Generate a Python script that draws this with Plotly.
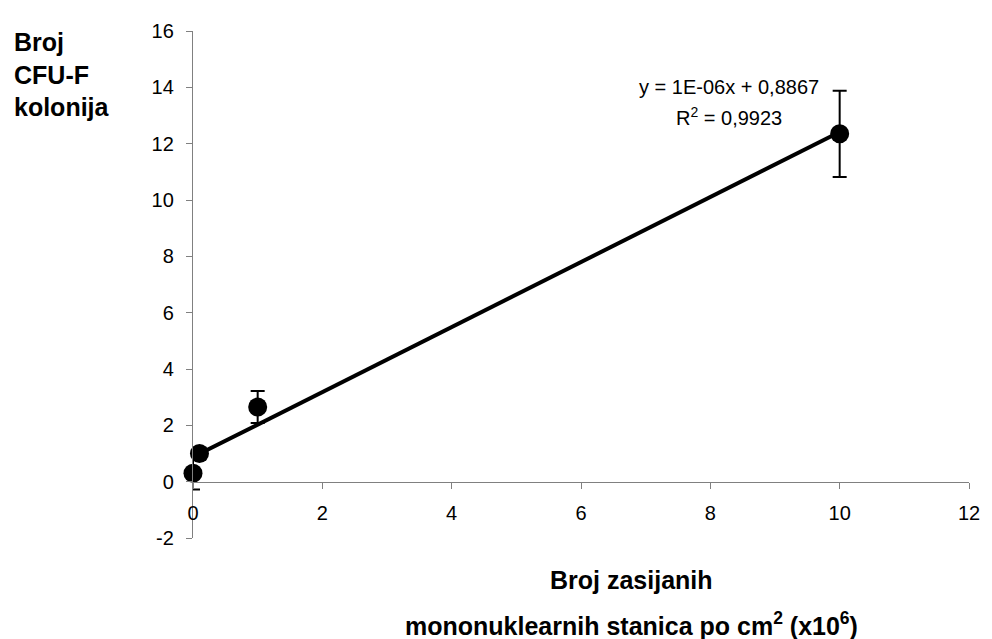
import numpy as np
import plotly.graph_objects as go

# Data
cells_x10e6 = [0.0, 0.1, 1.0, 10.0]
cfu_colonies = [0.3, 1.0, 2.65, 12.35]
cfu_error = [0.58, 0.2, 0.57, 1.53]

x_ticks = [0, 2, 4, 6, 8, 10, 12]
y_ticks = [-2, 0, 2, 4, 6, 8, 10, 12, 14, 16]
x_tick_labels = [str(v) for v in x_ticks]
y_tick_labels = [str(v) for v in y_ticks]

eq_line1 = "y = 1E-06x + 0,8867"
eq_line2 = "R<sup>2</sup> = 0,9923"
y_title = "Broj<br>CFU-F<br>kolonija"
x_title1 = "Broj zasijanih"
x_title2 = "mononuklearnih stanica po cm<sup>2</sup> (x10<sup>6</sup>)"

FONT = "Liberation Sans, Arial, sans-serif"

# Linear trend fitted to the data
slope, intercept = np.polyfit(cells_x10e6, cfu_colonies, 1)
trend_x = [0.0, 10.0]
trend_y = [intercept + slope * v for v in trend_x]

fig = go.Figure()
fig.add_trace(go.Scatter(
    x=trend_x, y=trend_y, mode="lines",
    line=dict(color="black", width=4),
    showlegend=False, hoverinfo="skip",
))
fig.add_trace(go.Scatter(
    x=cells_x10e6, y=cfu_colonies, mode="markers",
    marker=dict(color="black", size=19),
    error_y=dict(type="data", array=cfu_error, visible=True,
                 color="black", thickness=2, width=7),
    cliponaxis=False, showlegend=False,
))

ymin, ymax = -2, 16
fig.update_layout(
    width=984, height=631,
    margin=dict(l=185, r=15, t=12, b=101),
    paper_bgcolor="white", plot_bgcolor="white",
    font=dict(family=FONT, color="black"),
    xaxis=dict(
        range=[0, 12], tickvals=x_ticks, ticktext=x_tick_labels,
        showgrid=False, zeroline=False,
        showline=True, linecolor="#808080", linewidth=1.3,
        ticks="outside", ticklen=6, tickcolor="#808080", tickwidth=1.3,
        tickfont=dict(size=20, family=FONT, color="black"),
        ticklabelstandoff=7,
        anchor="free", position=(0 - ymin) / (ymax - ymin),
    ),
    yaxis=dict(
        range=[ymin, ymax], tickvals=y_ticks, ticktext=y_tick_labels,
        showgrid=False, zeroline=False,
        showline=True, linecolor="#808080", linewidth=1.3,
        ticks="outside", ticklen=6, tickcolor="#808080", tickwidth=1.3,
        tickfont=dict(size=20, family=FONT, color="black"),
        ticklabelstandoff=8,
    ),
    annotations=[
        dict(text=y_title, xref="paper", yref="paper", x=0, y=1,
             xanchor="left", yanchor="top", xshift=-181, yshift=5,
             align="left", showarrow=False,
             font=dict(size=25, family=FONT, color="black", weight="bold")),
        dict(text=x_title1, xref="paper", yref="paper", x=0.565, y=0,
             xanchor="center", yanchor="middle", yshift=-42,
             showarrow=False,
             font=dict(size=25, family=FONT, color="black", weight="bold")),
        dict(text=x_title2, xref="paper", yref="paper", x=0.565, y=0,
             xanchor="center", yanchor="middle", yshift=-86,
             showarrow=False,
             font=dict(size=25, family=FONT, color="black", weight="bold")),
        dict(text=eq_line1, xref="x", yref="y", x=8.29, y=14.02,
             xanchor="center", yanchor="middle", showarrow=False,
             font=dict(size=20, family=FONT, color="black")),
        dict(text=eq_line2, xref="x", yref="y", x=8.29, y=12.97,
             xanchor="center", yanchor="middle", showarrow=False,
             font=dict(size=20, family=FONT, color="black")),
    ],
)

fig.write_html("out.html")
